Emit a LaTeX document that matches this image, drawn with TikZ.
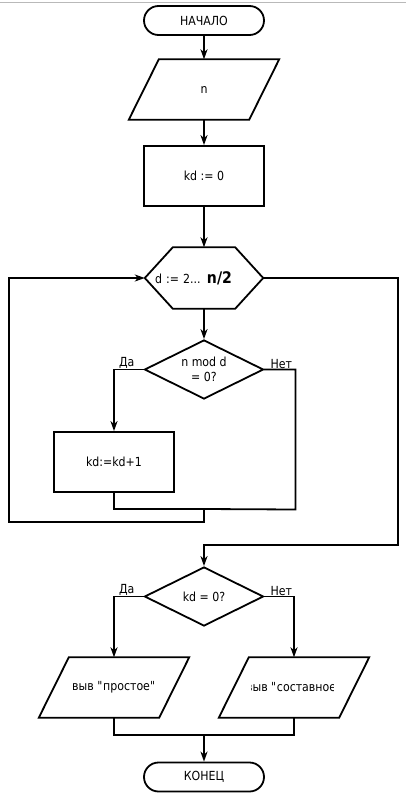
\documentclass[tikz,border=0pt]{standalone}
\usepackage{fontspec}
\setmainfont{DejaVu Sans}[FakeStretch=0.88]
\usetikzlibrary{shapes.geometric, arrows.meta, positioning, calc}

% slanted frame round an invisible io node
\newcommand{\ioframe}[1]{%
  \draw[line] ($(#1.south west)+(-15,0)$) -- ($(#1.south east)+(-15,0)$)
    -- ($(#1.north east)+(15,0)$) -- ($(#1.north west)+(15,0)$) -- cycle;}

\begin{document}
\begin{tikzpicture}[x=1pt, y=-1pt,
    base/.style={font=\fontsize{12.5}{14.5}\selectfont, inner sep=2pt, align=center},
    term/.style={base, rectangle, draw, line width=1.8pt, rounded corners=14.5pt,
                 minimum width=120pt, minimum height=29pt},
    proc/.style={base, rectangle, draw, line width=1.8pt,
                 minimum width=120pt, minimum height=60pt},
    dec/.style={base, diamond, aspect=2, draw, line width=1.8pt, inner sep=0pt,
                minimum width=119pt, minimum height=59pt},
    io/.style={base, rectangle, minimum width=120pt, minimum height=60pt},
    loopbox/.style={base, rectangle, minimum width=118pt, minimum height=61pt,
                    text width=98pt, inner xsep=10pt, align=left},
    lbl/.style={base, inner sep=1pt},
    line/.style={line width=1.8pt, line cap=rect},
    arr/.style={line width=1.8pt, -{Stealth[length=10pt, width=7pt, inset=3pt]}},
]
    \useasboundingbox (0,0) rectangle (406,800);
    \draw[gray!55, line width=1.5pt] (0,2.5) -- (406,2.5);

    \node[term] (start) at (204,20.5) {НАЧАЛО};
    \node[io] (inp) at (204,89.5) {n};
    \ioframe{inp}
    \node[proc] (init) at (204,176) {kd := 0};
    \node[loopbox] (hex) at (204,278) {d := 2... {\bfseries\fontsize{16}{16}\selectfont n/2}};
    \draw[line] (hex.west) -- ($(hex.north west)+(28,0)$) -- ($(hex.north east)+(-28,0)$)
        -- (hex.east) -- ($(hex.south east)+(-28,0)$) -- ($(hex.south west)+(28,0)$) -- cycle;
    \node[dec] (chk) at (204,369.5) {n mod d\\= 0?};
    \node[proc] (inc) at (114,462) {kd:=kd+1};
    \node[dec] (res) at (204,596.5) {kd = 0?};
    \node[io] (out1) at (114,687.5) {выв \textquotedbl простое\textquotedbl};
    \ioframe{out1}
    \begin{scope}
        \clip (251,640) rectangle (333,730);
        \node[io] (out2) at (294,687.5) {выв \textquotedbl составное\textquotedbl};
    \end{scope}
    \ioframe{out2}
    \node[term] (stop) at (204,777) {КОНЕЦ};

    \node[lbl, anchor=south east] (yes1) at ([xshift=-8pt]chk.west) {Да};
    \node[lbl, anchor=south west] (no1) at ([xshift=5pt]chk.east) {Нет};
    \node[lbl, anchor=south east] (yes2) at ([xshift=-8pt]res.west) {Да};
    \node[lbl, anchor=south west] (no2) at ([xshift=5pt]res.east) {Нет};

    \coordinate (j1) at (204,509);
    \coordinate (j2) at (204,545);
    \coordinate (j3) at (204,735);

    \draw[arr] (start.south) -- (inp.north);
    \draw[arr] (inp.south) -- (init.north);
    \draw[arr] (init.south) -- (hex.north);
    \draw[arr] (hex.south) -- (chk.north);
    \draw[arr] (chk.west) -| (inc.north);
    \draw[line] (chk.east) -| ++(31,140) -- (j1);
    \draw[line] (inc.south) |- (j1);
    \draw[arr] (j1) -- ++(0,13) -- ++(-195,0) |- (hex.west);
    \draw[arr] (hex.east) -| ++(135,267) -- (j2) -- (res.north);
    \draw[arr] (res.west) -| (out1.north);
    \draw[arr] (res.east) -| (out2.north);
    \draw[line] (out1.south) |- (j3);
    \draw[line] (out2.south) |- (j3);
    \draw[arr] (j3) -- (stop.north);
\end{tikzpicture}
\end{document}
